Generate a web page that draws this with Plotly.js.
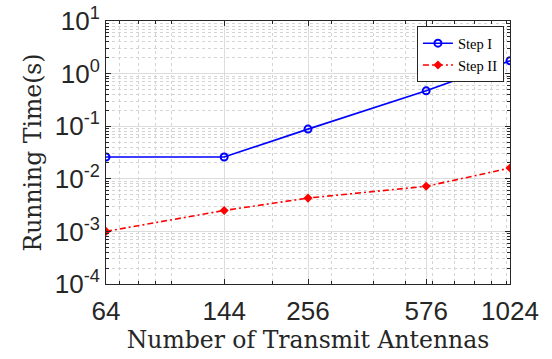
<!DOCTYPE html>
<html>
<head>
<meta charset="utf-8">
<script src="https://cdn.plot.ly/plotly-3.0.1.min.js"></script>
<style>html,body{margin:0;padding:0;background:#fff;}#chart{width:552px;height:359px;}</style>
</head>
<body>
<div id="chart"></div>
<script>
// Number of transmit antennas
var antennas = [64, 144, 256, 576, 1024];
// Running time in seconds for each step
var stepOne = [0.026, 0.026, 0.088, 0.47, 1.75];
var stepTwo = [0.001, 0.0025, 0.0043, 0.0072, 0.016];
var seriesNames = ['Step I', 'Step II'];

var xTickVals = [64, 144, 256, 576, 1024];
var xTickText = ['64', '144', '256', '576', '1024'];
var yExponents = [-4, -3, -2, -1, 0, 1];

var yTickVals = yExponents.map(function (e) { return Math.pow(10, e); });
var yTickText = yExponents.map(function (e) { return '10<sup>' + e + '</sup>'; });

// minor grid positions: 2..9 times each decade
var yMinor = [];
for (var e = -4; e < 1; e++) {
  for (var k = 2; k <= 9; k++) yMinor.push(k * Math.pow(10, e));
}
var xMinor = [70, 80, 90, 100, 200, 300, 400, 500, 600, 700, 800, 900, 1000];

var serif = 'DejaVu Serif, serif';
var sans = 'Liberation Sans, Arial, sans-serif';

var traces = [
  {
    x: antennas, y: stepOne, name: seriesNames[0], type: 'scatter', mode: 'lines+markers',
    line: {color: '#0000ff', width: 1.6},
    marker: {symbol: 'circle-open', size: 7, color: '#0000ff', line: {width: 2, color: '#0000ff'}}
  },
  {
    x: antennas, y: stepTwo, name: seriesNames[1], type: 'scatter', mode: 'lines+markers',
    line: {color: '#ff0000', width: 1.6, dash: '6px,3px,2px,3px'},
    marker: {symbol: 'diamond', size: 7, color: '#ff0000'}
  }
];

var layout = {
  width: 552, height: 359,
  margin: {l: 106, r: 42, t: 21, b: 75},
  paper_bgcolor: '#ffffff', plot_bgcolor: '#ffffff',
  showlegend: true,
  legend: {
    x: 0.985, y: 0.98, xanchor: 'right', yanchor: 'top',
    bgcolor: '#ffffff', bordercolor: '#262626', borderwidth: 1,
    font: {family: 'Liberation Serif, serif', size: 14.5, color: '#000'},
    itemwidth: 30, tracegroupgap: 0
  },
  xaxis: {
    type: 'log',
    range: [Math.log10(64), Math.log10(1024)],
    tickmode: 'array', tickvals: xTickVals, ticktext: xTickText,
    tickfont: {family: sans, size: 26, color: '#262626'},
    ticklabelstandoff: 4,
    ticks: 'inside', ticklen: 5, tickcolor: '#262626',
    showline: true, linecolor: '#262626', linewidth: 1, mirror: 'ticks',
    showgrid: true, gridcolor: '#dcdcdc', gridwidth: 1,
    minor: {tickmode: 'array', tickvals: xMinor, ticks: 'inside', ticklen: 3, tickcolor: '#262626',
            showgrid: true, gridcolor: '#d4d4d4', griddash: 'dot', gridwidth: 1},
    zeroline: false,
    title: {text: 'Number of Transmit Antennas', font: {family: serif, size: 23.5, color: '#262626'}, standoff: 2}
  },
  yaxis: {
    type: 'log',
    range: [-4, 1],
    tickmode: 'array', tickvals: yTickVals, ticktext: yTickText,
    tickfont: {family: sans, size: 26, color: '#262626'},
    ticks: 'inside', ticklen: 5, tickcolor: '#262626',
    showline: true, linecolor: '#262626', linewidth: 1, mirror: 'ticks',
    showgrid: true, gridcolor: '#dcdcdc', gridwidth: 1,
    minor: {tickmode: 'array', tickvals: yMinor, ticks: 'inside', ticklen: 3, tickcolor: '#262626',
            showgrid: true, gridcolor: '#d4d4d4', griddash: 'dot', gridwidth: 1},
    zeroline: false,
    title: {text: 'Running Time(s)', font: {family: serif, size: 23.5, color: '#262626'}, standoff: 6}
  }
};

Plotly.newPlot('chart', traces, layout, {displayModeBar: false, staticPlot: true});
</script>
</body>
</html>
